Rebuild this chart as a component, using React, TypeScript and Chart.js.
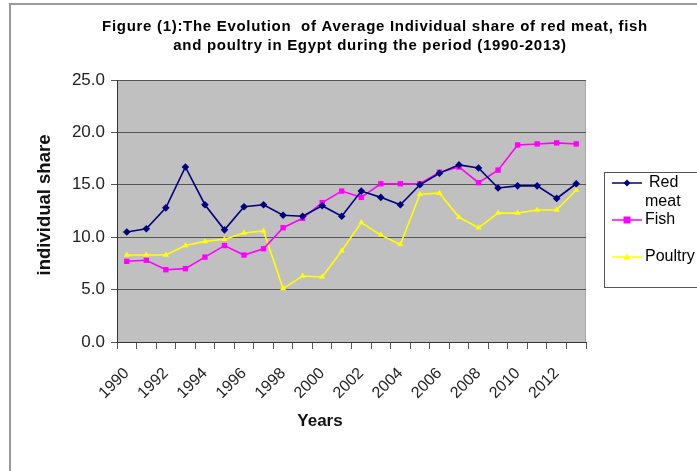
import React, { useEffect, useRef } from "react";
import { Chart, registerables } from "chart.js";

Chart.register(...registerables);

const years = [
  "1990", "1991", "1992", "1993", "1994", "1995", "1996", "1997", "1998", "1999", "2000", "2001",
  "2002", "2003", "2004", "2005", "2006", "2007", "2008", "2009", "2010", "2011", "2012", "2013",
];
const redMeat = [10.5, 10.8, 12.8, 16.7, 13.1, 10.7, 12.9, 13.1, 12.1, 12.0, 13.0, 12.0, 14.4, 13.8, 13.1, 15.0, 16.1, 16.9, 16.6, 14.7, 14.9, 14.9, 13.7, 15.1];
const fish = [7.7, 7.8, 6.9, 7.0, 8.1, 9.2, 8.3, 8.9, 10.9, 11.8, 13.3, 14.4, 13.8, 15.1, 15.1, 15.1, 16.2, 16.7, 15.2, 16.4, 18.8, 18.9, 19.0, 18.9];
const poultry = [8.3, 8.3, 8.3, 9.2, 9.6, 9.8, 10.4, 10.6, 5.1, 6.3, 6.2, 8.7, 11.4, 10.2, 9.3, 14.1, 14.2, 11.9, 10.9, 12.3, 12.3, 12.6, 12.6, 14.5];

const seriesNames = ["Red meat", "Fish", "Poultry"];
const titleLines = [
  "Figure (1):The Evolution  of Average Individual share of red meat, fish",
  "and poultry in Egypt during the period (1990-2013)",
];
const xTitle = "Years";
const yTitle = "individual share";

const NAVY = "#000080";
const MAGENTA = "#FF00FF";
const YELLOW = "#FFFF00";
const FONT = "'Liberation Sans', Arial, sans-serif";

function drawMarker(ctx: CanvasRenderingContext2D, style: string, x: number, y: number, r: number, color: string) {
  ctx.save();
  ctx.fillStyle = color;
  ctx.beginPath();
  if (style === "rectRot") {
    ctx.moveTo(x, y - r);
    ctx.lineTo(x + r, y);
    ctx.lineTo(x, y + r);
    ctx.lineTo(x - r, y);
  } else if (style === "rect") {
    ctx.rect(x - r, y - r, 2 * r, 2 * r);
  } else {
    ctx.moveTo(x, y - r);
    ctx.lineTo(x + r, y + r * 0.8);
    ctx.lineTo(x - r, y + r * 0.8);
  }
  ctx.closePath();
  ctx.fill();
  ctx.restore();
}

const decorPlugin = {
  id: "decor",
  beforeDraw(chart: any) {
    const { ctx, chartArea: a } = chart;
    ctx.save();
    ctx.fillStyle = "#ffffff";
    ctx.fillRect(0, 0, chart.width, chart.height);
    ctx.strokeStyle = "#9a9a9a";
    ctx.lineWidth = 2;
    ctx.beginPath();
    ctx.moveTo(10, chart.height);
    ctx.lineTo(10, 4);
    ctx.lineTo(chart.width, 4);
    ctx.stroke();
    ctx.fillStyle = "#C0C0C0";
    ctx.fillRect(a.left, a.top, a.right - a.left, a.bottom - a.top);
    ctx.strokeStyle = "#a8a8a8";
    ctx.lineWidth = 1;
    ctx.beginPath();
    ctx.moveTo(a.right - 0.5, a.top);
    ctx.lineTo(a.right - 0.5, a.bottom);
    ctx.stroke();
    ctx.restore();
  },
  afterDraw(chart: any) {
    const { ctx } = chart;
    ctx.save();
    // title
    ctx.fillStyle = "#000";
    ctx.font = `bold 15px ${FONT}`;
    (ctx as any).letterSpacing = "0.7px";
    ctx.textAlign = "center";
    ctx.textBaseline = "middle";
    ctx.fillText(titleLines[0], 375, 27);
    ctx.fillText(titleLines[1], 370, 46);
    (ctx as any).letterSpacing = "0px";
    // x title
    ctx.font = `bold 17px ${FONT}`;
    ctx.fillStyle = "#111";
    ctx.fillText(xTitle, 320, 421);
    // y title
    ctx.save();
    ctx.translate(45, 205);
    ctx.rotate(-Math.PI / 2);
    ctx.font = `bold 18.5px ${FONT}`;
    ctx.fillText(yTitle, 0, 0);
    ctx.restore();
    // legend
    ctx.strokeStyle = "#555";
    ctx.lineWidth = 1;
    ctx.strokeRect(604.5, 172.5, 110, 115);
    const entries = [
      { y: 183, color: NAVY, style: "rectRot", r: 3.5 },
      { y: 220, color: MAGENTA, style: "rect", r: 3.5 },
      { y: 257, color: YELLOW, style: "triangle", r: 3.5 },
    ];
    entries.forEach((e) => {
      ctx.strokeStyle = e.color;
      ctx.lineWidth = 1.5;
      ctx.beginPath();
      ctx.moveTo(612, e.y);
      ctx.lineTo(642, e.y);
      ctx.stroke();
      drawMarker(ctx, e.style, 627, e.y, e.r, e.color);
    });
    ctx.fillStyle = "#000";
    ctx.font = `16px ${FONT}`;
    ctx.textAlign = "left";
    ctx.textBaseline = "middle";
    const [w1, w2] = seriesNames[0].split(" ");
    ctx.fillText(w1, 649, 183);
    ctx.fillText(w2, 645, 202);
    ctx.fillText(seriesNames[1], 645, 220);
    ctx.fillText(seriesNames[2], 645, 257);
    ctx.restore();
  },
};

export default function App() {
  const ref = useRef<HTMLCanvasElement | null>(null);
  useEffect(() => {
    if (!ref.current) return;
    const chart = new Chart(ref.current, {
      type: "line",
      data: {
        labels: years,
        datasets: [
          {
            label: seriesNames[0],
            data: redMeat,
            borderColor: NAVY,
            backgroundColor: NAVY,
            borderWidth: 1.6,
            pointStyle: "rectRot",
            pointRadius: 3.8,
            pointBorderWidth: 0,
            tension: 0,
          },
          {
            label: seriesNames[1],
            data: fish,
            borderColor: MAGENTA,
            backgroundColor: MAGENTA,
            borderWidth: 1.6,
            pointStyle: "rect",
            pointRadius: 3.8,
            pointBorderWidth: 0,
            tension: 0,
          },
          {
            label: seriesNames[2],
            data: poultry,
            borderColor: YELLOW,
            backgroundColor: YELLOW,
            borderWidth: 1.6,
            pointStyle: "triangle",
            pointRadius: 3.5,
            pointBorderWidth: 0,
            tension: 0,
          },
        ],
      },
      options: {
        responsive: false,
        animation: false,
        layout: { padding: { left: 0, top: 80, right: 111, bottom: 0 } },
        plugins: {
          legend: { display: false },
          title: { display: false },
          tooltip: { enabled: false },
        },
        scales: {
          x: {
            type: "category",
            offset: true,
            grid: {
              offset: true,
              drawOnChartArea: false,
              drawTicks: true,
              tickLength: 7,
              color: "#555",
            },
            border: { color: "#333", width: 1 },
            ticks: {
              autoSkip: false,
              minRotation: 45,
              maxRotation: 45,
              padding: 15,
              color: "#222",
              font: { family: FONT, size: 16 },
              callback: (_v: any, i: number) => (i % 2 === 0 ? years[i] : ""),
            },
            afterFit: (s: any) => {
              s.height = 129;
            },
          },
          y: {
            min: 0,
            max: 25,
            grid: { color: "#555", tickLength: 6, lineWidth: 1 },
            border: { color: "#333", width: 1 },
            ticks: {
              stepSize: 5,
              padding: 6,
              color: "#222",
              font: { family: FONT, size: 17 },
              callback: (v: any) => Number(v).toFixed(1),
            },
            afterFit: (s: any) => {
              s.width = 117;
            },
          },
        },
      },
      plugins: [decorPlugin],
    });
    return () => chart.destroy();
  }, []);
  return (
    <div style={{ position: "fixed", left: 0, top: 0, width: 697, height: 471 }}>
      <canvas ref={ref} width={697} height={471} style={{ width: 697, height: 471, display: "block" }} />
    </div>
  );
}
